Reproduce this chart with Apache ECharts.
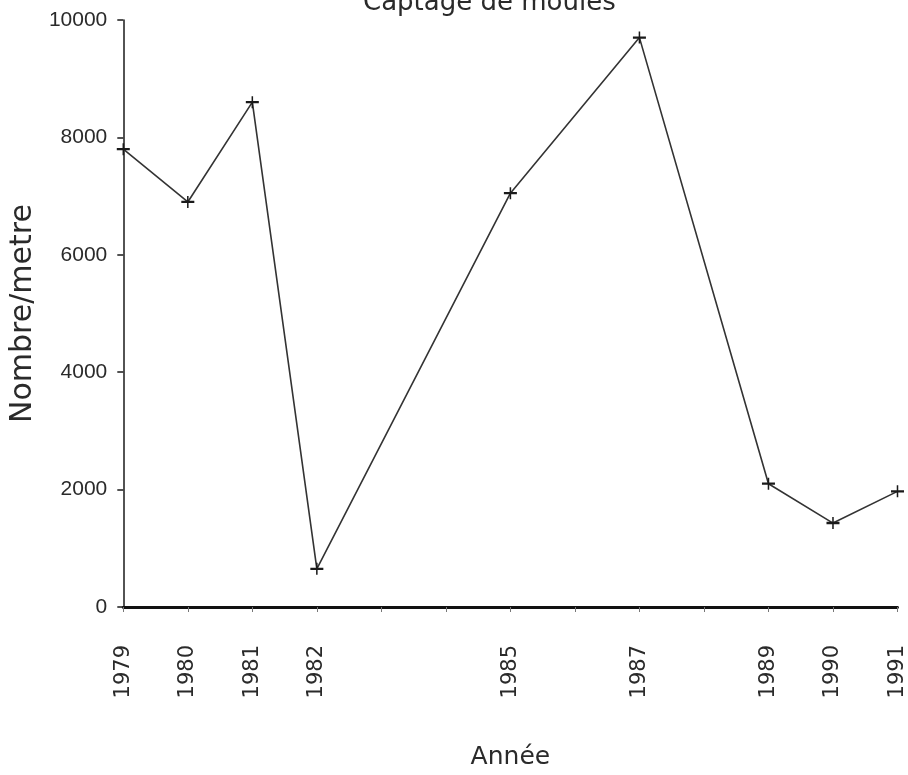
<!DOCTYPE html>
<html>
<head>
<meta charset="utf-8">
<title>Captage de moules</title>
<script src="https://cdn.jsdelivr.net/npm/echarts@6/dist/echarts.min.js"></script>
<style>
  html, body { margin: 0; padding: 0; background: #ffffff; }
  #chart { width: 908px; height: 775px; }
</style>
</head>
<body>
<div id="chart"></div>
<script>
// Annual mussel spat counts (number per metre)
const years = [1979, 1980, 1981, 1982, 1985, 1987, 1989, 1990, 1991];
const counts = [7800, 6900, 8600, 650, 7050, 9700, 2100, 1430, 1970];
const yTicks = [0, 2000, 4000, 6000, 8000, 10000];

const chartTitle = 'Captage de moules';
const xName = 'Année';
const yName = 'Nombre/metre';

const ink = '#2a2a2a';

const chart = echarts.init(document.getElementById('chart'), null, { renderer: 'canvas' });

// "+" marker drawn as a filled cross
const plusPath = 'path://M0,4.2H12V6.2H0Z M5.3,0H6.7V10.5H5.3Z';

chart.setOption({
  backgroundColor: '#ffffff',
  animation: false,
  title: {
    text: chartTitle,
    left: 363,
    top: -10,
    padding: 0,
    textStyle: { fontFamily: 'DejaVu Sans', fontSize: 26, fontWeight: 'normal', color: ink }
  },
  grid: { left: 120, right: 5, top: 20, bottom: 160, containLabel: false },
  xAxis: {
    type: 'value',
    min: 1979,
    max: 1991,
    interval: 1,
    name: xName,
    nameLocation: 'middle',
    nameGap: 138,
    nameTextStyle: { fontFamily: 'DejaVu Sans', fontSize: 25, color: ink },
    axisLine: { show: true, onZero: false, lineStyle: { color: '#111111', width: 2.8 } },
    axisTick: { show: true, inside: false, length: 5, lineStyle: { color: '#777', width: 1 } },
    splitLine: { show: false },
    axisLabel: {
      rotate: 90,
      margin: 38,
      fontFamily: 'DejaVu Sans',
      fontSize: 21,
      color: ink,
      formatter: function (v) { return years.indexOf(v) >= 0 ? String(v) : ''; }
    }
  },
  yAxis: {
    type: 'value',
    min: yTicks[0],
    max: yTicks[yTicks.length - 1],
    interval: yTicks[1] - yTicks[0],
    name: yName,
    nameLocation: 'middle',
    nameGap: 78,
    nameRotate: 90,
    nameTextStyle: { fontFamily: 'DejaVu Sans', fontSize: 30, color: ink },
    axisLine: { show: true, lineStyle: { color: '#1a1a1a', width: 1.5 } },
    axisTick: { show: true, inside: false, length: 6, lineStyle: { color: '#1a1a1a', width: 1.5 } },
    splitLine: { show: false },
    axisLabel: {
      margin: 16,
      fontFamily: 'Liberation Sans',
      fontSize: 21,
      color: ink,
      formatter: function (v) { return String(v); }
    }
  },
  series: [{
    type: 'line',
    data: years.map(function (y, i) { return [y, counts[i]]; }),
    symbol: plusPath,
    symbolSize: [13, 12],
    showAllSymbol: true,
    lineStyle: { color: '#333333', width: 1.6 },
    itemStyle: { color: '#1a1a1a' },
    clip: false
  }]
});
</script>
</body>
</html>
